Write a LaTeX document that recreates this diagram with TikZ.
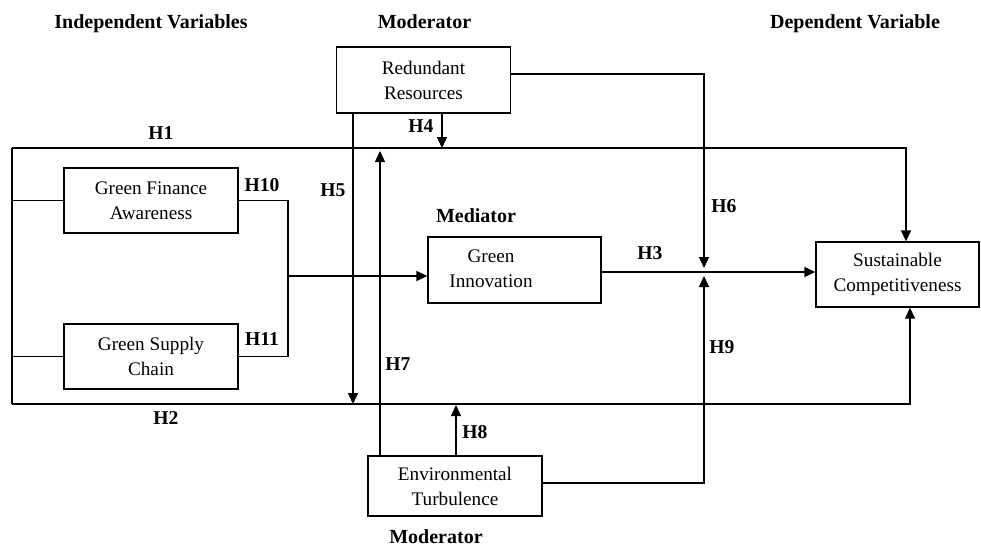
\documentclass[tikz,border=0pt]{standalone}
\usepackage{fontspec}
\setmainfont{Liberation Serif}
\usetikzlibrary{arrows.meta}
\begin{document}
\begin{tikzpicture}[x=0.5pt,y=-0.5pt,
  every node/.style={font=\fontsize{9.6}{12.5}\selectfont},
  box/.style={draw, line width=0.65pt, inner sep=0pt, align=center},
  hyp/.style={font=\fontsize{9.8}{12}\selectfont\bfseries, anchor=base, inner sep=0pt},
  head/.style={font=\fontsize{10}{12}\selectfont\bfseries, anchor=base, inner sep=0pt},
  link/.style={line width=0.65pt},
  arr/.style={link, -{Triangle[length=5.5pt,width=5pt]}}]
\useasboundingbox (0,0) rectangle (981,548);

% constructs
\node[box, minimum width=87pt, minimum height=33pt] (rr) at (423.5,80) {Redundant\\Resources};
\node[box, minimum width=87pt, minimum height=32.5pt] (gfa) at (151,200.5) {Green Finance\\Awareness};
\node[box, minimum width=87pt, minimum height=32.5pt] (gsc) at (151,356.5) {Green Supply\\Chain};
\node[box, minimum width=86.5pt, minimum height=33pt] (gi) at (514.5,270) {};
\node[align=center, inner sep=0pt] (gitext) at (491,269) {Green\\Innovation};
\node[box, minimum width=81.5pt, minimum height=32.5pt] (sc) at (897.5,274.5) {Sustainable\\Competitiveness};
\node[box, minimum width=87pt, minimum height=30pt] (et) at (455,486) {Environmental\\Turbulence};

% routing points
\coordinate (lt) at (12,148);
\coordinate (lb) at (12,404);
\coordinate (fork) at (288,276);
\coordinate (jn) at (704,272);
\coordinate (h1r) at (906,148);
\coordinate (h2r) at (910,404);
\coordinate (h4) at (442,148);
\coordinate (h5) at (353,404);
\coordinate (h7) at (380,151);
\coordinate (h8) at (456,405);
\coordinate (h6) at (704,268);
\coordinate (h9) at (704,276);

% independent variables bundle
\draw[link] (lt) -- (lb);
\draw[link] (gfa.west) -- (lt |- gfa.west);
\draw[link] (gsc.west) -- (lt |- gsc.west);

% direct paths H1, H2
\draw[arr] (lt) -- (h1r) -- (h1r |- sc.north);
\draw[arr] (lb) -- (h2r) -- (h2r |- sc.south);

% H10, H11 into mediator
\draw[link] (gfa.east) -| (fork) |- (gsc.east);
\draw[arr] (fork) -- (gi.west |- fork);

% H3
\draw[arr] (gi.east |- jn) -- (sc.west |- jn);

% moderation paths
\draw[arr] (h4 |- rr.south) -- (h4);
\draw[arr] (h5 |- rr.south) -- (h5);
\draw[arr] (h7 |- et.north) -- (h7);
\draw[arr] (h8 |- et.north) -- (h8);
\draw[arr] ([yshift=3pt]rr.east) -| (h6);
\draw[arr] ([yshift=1.5pt]et.east) -| (h9);

% hypothesis labels
\node[hyp] (l1) at (161,139) {H1};
\node[hyp] (l2) at (166,424) {H2};
\node[hyp] (l3) at (650,259) {H3};
\node[hyp] (l4) at (421,132) {H4};
\node[hyp] (l5) at (333,196) {H5};
\node[hyp] (l6) at (724,212) {H6};
\node[hyp] (l7) at (398,370) {H7};
\node[hyp] (l8) at (475,438) {H8};
\node[hyp] (l9) at (722,353) {H9};
\node[hyp] (l10) at (262,191) {H10};
\node[hyp] (l11) at (262,345) {H11};

% headings
\node[head] (hiv) at (151,28) {Independent Variables};
\node[head] (hmt) at (424.5,28) {Moderator};
\node[head] (hdv) at (855,28) {Dependent Variable};
\node[head] (hmd) at (476,222) {Mediator};
\node[head] (hmb) at (436,543) {Moderator};
\end{tikzpicture}
\end{document}
